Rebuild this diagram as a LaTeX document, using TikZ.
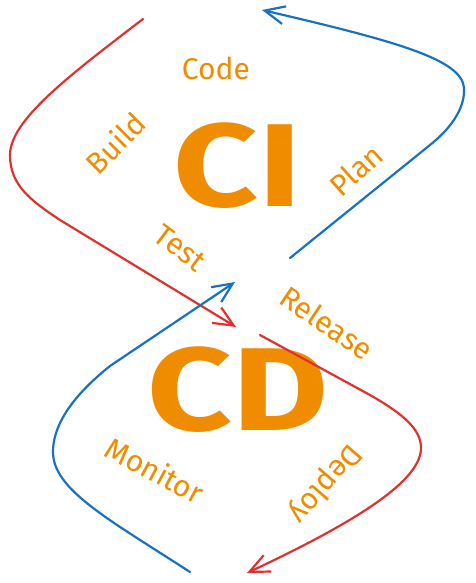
\documentclass[tikz,border=0pt]{standalone}
\usepackage{fontspec}
\setmainfont{Fira Sans}
\usetikzlibrary{arrows.meta}

\definecolor{stageorange}{HTML}{F08C00}
\definecolor{loopred}{HTML}{E03131}
\definecolor{loopblue}{HTML}{1971C2}

\begin{document}
\begin{tikzpicture}[x=1pt, y=-1pt,
    stage/.style={text=stageorange, font=\fontsize{30}{32}\selectfont, inner sep=0pt},
    phase/.style={text=stageorange, font=\fontsize{118}{120}\selectfont\bfseries, inner sep=0pt, xscale=1.25},
    redloop/.style={loopred, line width=2.2pt, line cap=round, -{Straight Barb[length=20pt, width=18pt]}},
    blueloop/.style={loopblue, line width=2.2pt, line cap=round, -{Straight Barb[length=20pt, width=18pt]}}]
      \useasboundingbox (0,0) rectangle (475,583);

      % Draw the big letters
      \node[phase] (ci) at (238,166) {CI};
      \node[phase] (cd) at (238,390) {CD};

      % Add labels for the stages
      \node[stage] (code) at (216,68) {Code};
      \node[stage, rotate=45] (build) at (115,143) {Build};
      \node[stage, rotate=42] (plan) at (356,170) {Plan};
      \node[stage, rotate=-37] (test) at (180,248) {Test};
      \node[stage, rotate=-34] (release) at (327,323) {Release};
      \node[stage, rotate=-28] (monitor) at (155,470) {Monitor};
      \node[stage, rotate=229] (deploy) at (325,483) {Deploy};

      % Ends of the loops
      \coordinate (ciRedStart) at (143,19);
      \coordinate (ciRedEnd) at (236,327);
      \coordinate (ciBlueStart) at (290,258);
      \coordinate (ciBlueEnd) at (262,10);
      \coordinate (cdBlueStart) at (190,572);
      \coordinate (cdBlueEnd) at (235,282);
      \coordinate (cdRedStart) at (260,335);
      \coordinate (cdRedEnd) at (247,573);

      % Draw the CI loop
      \draw[redloop] (ciRedStart) .. controls (70,75) and (10,120) .. (10,155)
        .. controls (10,185) and (30,200) .. (60,220) -- (ciRedEnd);
      \draw[blueloop] (ciBlueStart) -- (430,145) .. controls (455,125) and (465,105) .. (464,88)
        .. controls (462,60) and (400,42) .. (ciBlueEnd);

      % Draw the CD loop
      \draw[blueloop] (cdBlueStart) .. controls (110,520) and (53,490) .. (53,452)
        .. controls (53,420) and (80,390) .. (110,366) -- (cdBlueEnd);
      \draw[redloop] (cdRedStart) -- (370,395) .. controls (405,415) and (421,430) .. (421,448)
        .. controls (421,480) and (360,520) .. (cdRedEnd);
  \end{tikzpicture}
\end{document}
